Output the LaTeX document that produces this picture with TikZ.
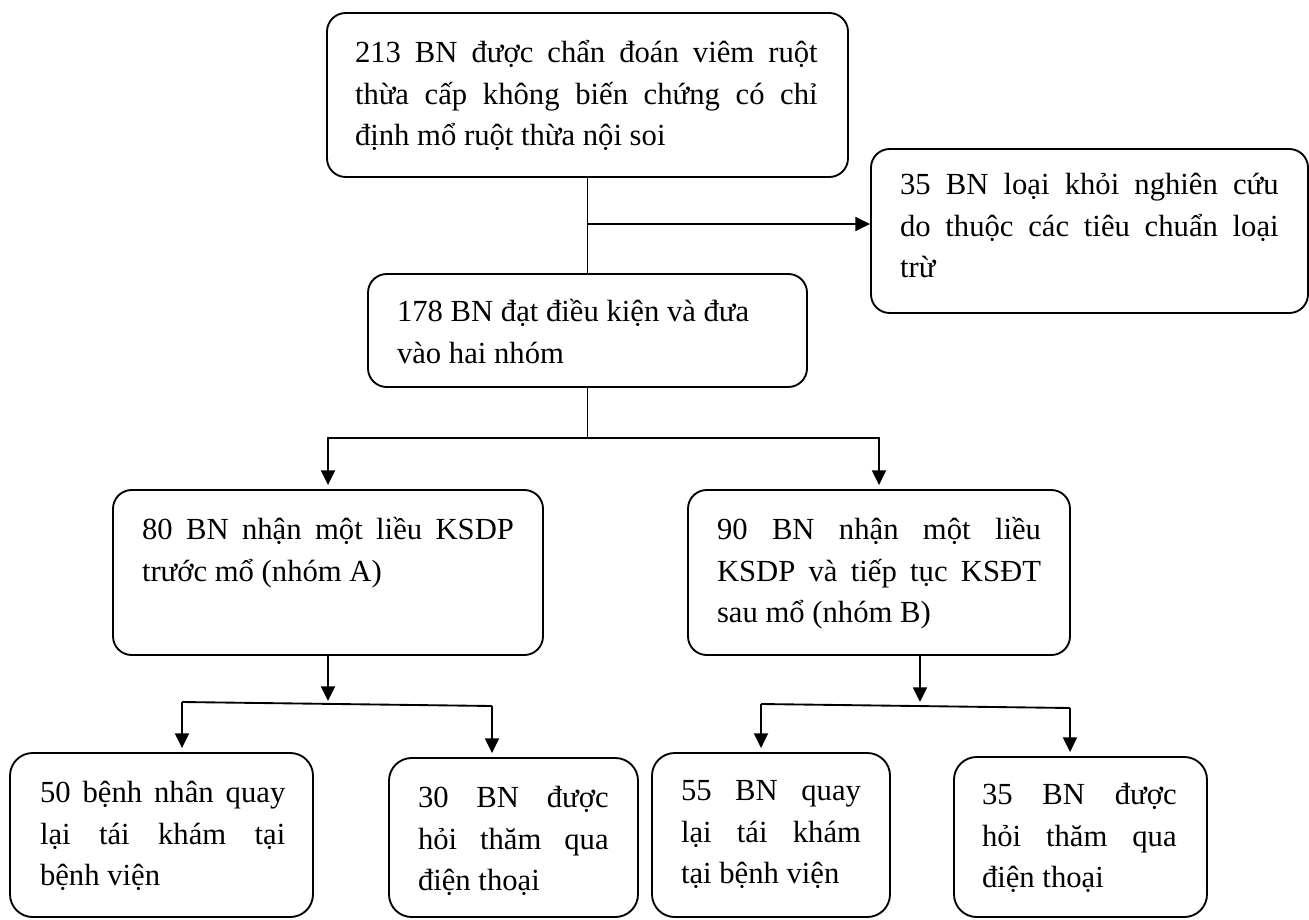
\documentclass[tikz,border=0pt]{standalone}
\usepackage{fontspec}
\setmainfont{Liberation Serif}
\usetikzlibrary{arrows.meta}
\setlength{\parindent}{0pt}
\newcommand{\fs}{\fontsize{23pt}{31pt}\selectfont}
\newcommand{\jl}[1]{\makebox[\hsize][s]{#1}}

\begin{document}
\begin{tikzpicture}[x=0.75pt,y=-0.75pt,line width=1.4pt,
  box/.style 2 args={draw,rounded corners=14pt,minimum width=#1*0.75pt,minimum height=#2*0.75pt,inner sep=0pt},
  leaf/.style={rounded corners=17pt},
  txt/.style={anchor=north west,inner sep=0pt,text width=#1,align=justify,font=\fs,execute at begin node=\strut},
  arr/.style={-{Triangle[length=11pt,width=10.5pt]},shorten >=3pt}]
\useasboundingbox (0,0) rectangle (1309,920);

% boxes
\node[box={521}{164}] (diag) at (587.5,95) {};
\node[box={437}{164}] (excl) at (1089.5,231) {};
\node[box={439}{113}] (elig) at (587.5,330.5) {};
\node[box={430}{165}] (grpA) at (328,572.5) {};
\node[box={382}{165}] (grpB) at (879,572.5) {};
\node[box={303}{164},leaf] (a1) at (161.5,835) {};
\node[box={249}{159},leaf] (a2) at (513.5,837.5) {};
\node[box={238}{164},leaf] (b1) at (771,835) {};
\node[box={253}{160},leaf] (b2) at (1080.5,837) {};

% texts
\node[txt=347pt] (diagT) at ([shift={(28,21)}]diag.north west)
  {\jl{213 BN được chẩn đoán viêm ruột}\\\jl{thừa cấp không biến chứng có chỉ}\\định mổ ruột thừa nội soi};
\node[txt=284pt] (exclT) at ([shift={(29,17)}]excl.north west)
  {\jl{35 BN loại khỏi nghiên cứu}\\\jl{do thuộc các tiêu chuẩn loại}\\trừ};
\node[txt=286pt] (eligT) at ([shift={(29,19)}]elig.north west)
  {178 BN đạt điều kiện và đưa\\vào hai nhóm};
\node[txt=279pt] (grpAT) at ([shift={(29,21)}]grpA.north west)
  {\jl{80 BN nhận một liều KSDP}\\trước mổ (nhóm A)};
\node[txt=243pt] (grpBT) at ([shift={(29,21)}]grpB.north west)
  {\jl{90 BN nhận một liều}\\\jl{KSDP và tiếp tục KSĐT}\\sau mổ (nhóm B)};
\node[txt=184pt] (a1T) at ([shift={(30,21)}]a1.north west)
  {\jl{50 bệnh nhân quay}\\\jl{lại tái khám tại}\\bệnh viện};
\node[txt=143pt] (a2T) at ([shift={(29,21)}]a2.north west)
  {\jl{30 BN được}\\\jl{hỏi thăm qua}\\điện thoại};
\node[txt=135pt] (b1T) at ([shift={(29,19)}]b1.north west)
  {\jl{55 BN quay}\\\jl{lại tái khám}\\tại bệnh viện};
\node[txt=146pt] (b2T) at ([shift={(28,19)}]b2.north west)
  {\jl{35 BN được}\\\jl{hỏi thăm qua}\\điện thoại};

% connectors
\coordinate (j1) at (587.5,224);
\coordinate (s1) at (587.5,438);
\draw (diag.south) -- (elig.north);
\draw[arr,shorten >=0pt] (j1) -- (j1 -| excl.west);
\draw (elig.south) -- (s1);
\draw[arr] (s1) -| (grpA.north);
\draw[arr] (s1) -| (grpB.north);

\coordinate (saL) at (182,702);
\coordinate (saR) at (492,706);
\draw[arr] (grpA.south) -- ++(0,49);
\draw (saL) -- (saR);
\draw[arr] (saL) -- (saL |- a1.north);
\draw[arr] (saR) -- (saR |- a2.north);

\coordinate (sbM) at (920,706);
\coordinate (sbL) at (761,704);
\coordinate (sbR) at (1070,708);
\draw[arr] (grpB.south -| sbM) -- (sbM);
\draw (sbL) -- (sbR);
\draw[arr] (sbL) -- (sbL |- b1.north);
\draw[arr] (sbR) -- (sbR |- b2.north);
\end{tikzpicture}
\end{document}
